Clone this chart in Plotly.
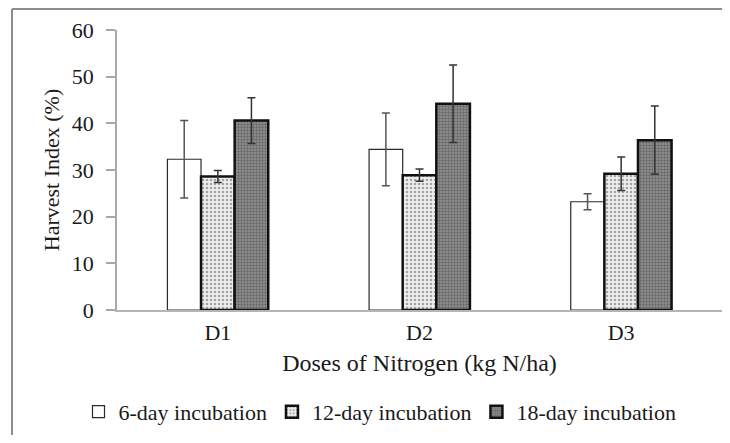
import plotly.graph_objects as go

categories = ["D1", "D2", "D3"]
series_names = ["6-day incubation", "12-day incubation", "18-day incubation"]
values_6 = [32.3, 34.4, 23.2]
errors_6 = [8.3, 7.8, 1.7]
values_12 = [28.6, 28.9, 29.2]
errors_12 = [1.3, 1.3, 3.6]
values_18 = [40.6, 44.2, 36.4]
errors_18 = [4.9, 8.3, 7.3]

FONT = "Liberation Serif"
TXT = "#1a1a1a"

fig = go.Figure()

fig.add_trace(go.Bar(
    name=series_names[0], x=categories, y=values_6,
    marker=dict(color="white", line=dict(color="#2a2a2a", width=1.2)),
    error_y=dict(type="data", array=errors_6, visible=True, color="#555555", thickness=1.5, width=4),
))
fig.add_trace(go.Bar(
    name=series_names[1], x=categories, y=values_12,
    marker=dict(color="#e6e6e6", line=dict(color="#111111", width=2.5),
                pattern=dict(shape=".", fgcolor="#5a5a5a", bgcolor="#efefef", size=4, solidity=0.35)),
    error_y=dict(type="data", array=errors_12, visible=True, color="#333333", thickness=1.5, width=4),
))
fig.add_trace(go.Bar(
    name=series_names[2], x=categories, y=values_18,
    marker=dict(color="#7a7a7a", line=dict(color="#111111", width=2.5),
                pattern=dict(shape=".", fgcolor="#3c3c3c", bgcolor="#949494", size=3, solidity=0.5)),
    error_y=dict(type="data", array=errors_18, visible=True, color="#333333", thickness=1.5, width=4),
))

# page body adds an 8px margin on every side; keep the figure inside the window
W, H = 714, 427
bx0 = (12 - 117) / 605
by1 = (310 - 9) / 280
fig.update_layout(
    width=W, height=H,
    margin=dict(l=109, r=0, t=22, b=H - 22 - 280, autoexpand=False),
    paper_bgcolor="white", plot_bgcolor="white",
    barmode="group", bargap=0.5, bargroupgap=0,
    font=dict(family=FONT, size=22, color=TXT),
    showlegend=True,
    legend=dict(orientation="h", xref="container", x=(380 - 8) / W, xanchor="center",
                y=-0.364, yanchor="middle",
                font=dict(family=FONT, size=22, color=TXT), traceorder="normal",
                itemwidth=30, bgcolor="rgba(0,0,0,0)"),
    xaxis=dict(
        automargin=False,
        showline=True, linecolor="#b5b5b5", linewidth=1.5, ticks="", showgrid=False,
        tickfont=dict(family=FONT, size=22, color=TXT), ticklabelstandoff=2,
        title=dict(text="Doses of Nitrogen (kg N/ha)", font=dict(family=FONT, size=24, color=TXT), standoff=10),
    ),
    yaxis=dict(
        automargin=False,
        range=[0, 60], dtick=10, showgrid=False, zeroline=False,
        showline=True, linecolor="#a8a8a8", linewidth=1.5,
        ticks="outside", ticklen=9, tickcolor="#a8a8a8", tickwidth=1.5,
        tickfont=dict(family=FONT, size=22, color=TXT), ticklabelstandoff=8,
        title=dict(text="Harvest Index (%)", font=dict(family=FONT, size=22, color=TXT), standoff=6),
    ),
    shapes=[
        dict(type="line", xref="paper", yref="paper", x0=bx0, x1=(740 - 117) / 605, y0=by1, y1=by1,
             line=dict(color="#8c8c8c", width=2), layer="below"),
        dict(type="line", xref="paper", yref="paper", x0=bx0, x1=bx0, y0=by1, y1=(310 - 460) / 280,
             line=dict(color="#8c8c8c", width=2), layer="below"),
    ],
)

fig.write_html("out.html")
